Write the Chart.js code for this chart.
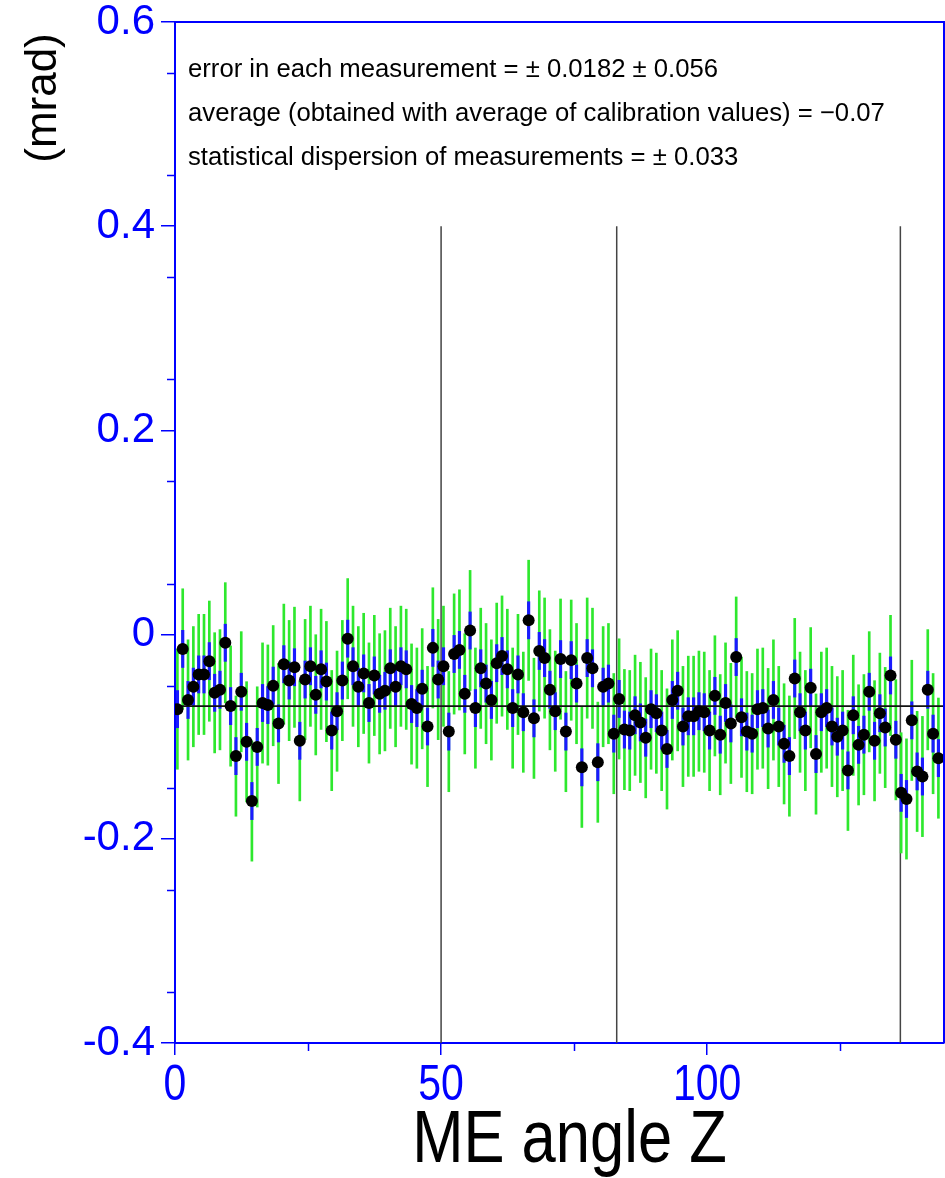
<!DOCTYPE html>
<html>
<head>
<meta charset="utf-8">
<script src="https://cdn.jsdelivr.net/npm/chart.js@4.4.1/dist/chart.umd.min.js"></script>
<style>
  html, body { margin: 0; padding: 0; background: #fff; overflow: hidden; }
  #wrap { width: 945px; height: 1178px; overflow: hidden; }
  canvas { display: block; }
</style>
</head>
<body>
<!-- canvas is a little wider than the view: the plot frame runs to the right edge -->
<div id="wrap"><canvas id="grafico" width="950" height="1178"></canvas></div>
<script>
const deviations = [
  -0.073,
  -0.014, -0.064, -0.051, -0.039, -0.039, -0.026, -0.057, -0.054, -0.008, -0.070,
  -0.119, -0.056, -0.105, -0.163, -0.110, -0.067, -0.069, -0.050, -0.087, -0.029,
  -0.045, -0.032, -0.104, -0.044,
  -0.031, -0.059, -0.034, -0.046, -0.094, -0.075, -0.045, -0.004, -0.031, -0.051,
  -0.038, -0.067, -0.040, -0.058, -0.055, -0.033, -0.051, -0.031, -0.034, -0.068,
  -0.072, -0.053, -0.090, -0.013,
  -0.044, -0.031, -0.095, -0.019, -0.015, -0.058, 0.004, -0.072, -0.033, -0.048,
  -0.064, -0.028, -0.021, -0.034, -0.072, -0.039, -0.076, 0.014, -0.082, -0.016,
  -0.023, -0.054, -0.075, -0.024, -0.095,
  -0.025, -0.048, -0.130, -0.023, -0.033, -0.125, -0.051, -0.048, -0.097, -0.063,
  -0.093, -0.094, -0.079, -0.086, -0.101, -0.073, -0.077, -0.094, -0.112, -0.064,
  -0.055, -0.090, -0.080, -0.080,
  -0.075, -0.076, -0.094, -0.060, -0.098, -0.067, -0.087, -0.022, -0.081, -0.095,
  -0.097, -0.073, -0.072, -0.092, -0.064, -0.090, -0.107, -0.119, -0.043, -0.076,
  -0.094, -0.052, -0.117, -0.076,
  -0.072, -0.090, -0.100, -0.094, -0.133, -0.079, -0.108, -0.098, -0.056, -0.104,
  -0.077, -0.091, -0.040, -0.103, -0.155, -0.161, -0.084, -0.134, -0.139, -0.054,
  -0.097, -0.121
];
// measurement angle Z for each point
const angles = deviations.map((_, i) => i + 0.45);

const statError = 0.0182;   // blue
const sysError = 0.056;
const totalError = Math.sqrt(statError * statError + sysError * sysError); // green

const meanValue = -0.07;
const dividerAngles = [50, 83, 136.3];
const dividerTop = 0.4;

const xRange = [0, 144.5];
const yRange = [-0.4, 0.6];
const xMajorStep = 50;
const xMinorTicks = [25, 75, 125];
const yMinorTicks = [-0.35, -0.25, -0.15, -0.05, 0.05, 0.15, 0.25, 0.35, 0.45, 0.55];

const notes = [
  'error in each measurement = \u00b1 0.0182 \u00b1 0.056',
  'average (obtained with average of calibration values) = \u22120.07',
  'statistical dispersion of measurements = \u00b1 0.033'
];

const AXIS_BLUE = '#0000ff';
const SANS = "'Liberation Sans', Arial, sans-serif";

// draws text squeezed horizontally (the original uses a narrow face)
function narrowText(ctx, text, x, y, squeeze) {
  ctx.save();
  ctx.translate(x, y);
  ctx.scale(squeeze, 1);
  ctx.fillText(text, 0, 0);
  ctx.restore();
}

const extras = {
  id: 'extras',
  afterDraw(chart) {
    const { ctx, chartArea, scales } = chart;
    ctx.save();
    // top and right frame
    ctx.strokeStyle = AXIS_BLUE;
    ctx.lineWidth = 2;
    ctx.beginPath();
    ctx.moveTo(chartArea.left, chartArea.top);
    ctx.lineTo(chartArea.right, chartArea.top);
    ctx.lineTo(chartArea.right, chartArea.bottom);
    ctx.stroke();

    // minor ticks
    ctx.lineWidth = 1.5;
    ctx.beginPath();
    xMinorTicks.forEach(v => {
      const px = Math.round(scales.x.getPixelForValue(v)) + 0.5;
      ctx.moveTo(px, chartArea.bottom);
      ctx.lineTo(px, chartArea.bottom + 8);
    });
    yMinorTicks.forEach(v => {
      const py = Math.round(scales.y.getPixelForValue(v)) + 0.5;
      ctx.moveTo(chartArea.left - 8, py);
      ctx.lineTo(chartArea.left, py);
    });
    ctx.stroke();

    // x tick labels
    ctx.fillStyle = AXIS_BLUE;
    ctx.font = '50px ' + SANS;
    ctx.textAlign = 'center';
    ctx.textBaseline = 'alphabetic';
    scales.x.ticks.forEach(t => {
      narrowText(ctx, String(t.value), scales.x.getPixelForValue(t.value), chartArea.bottom + 57, 0.82);
    });

    // x title
    ctx.fillStyle = '#000';
    ctx.font = '75px ' + SANS;
    narrowText(ctx, 'ME angle Z', (chartArea.left + chartArea.right) / 2 + 10, chartArea.bottom + 119, 0.82);

    // notes inside the plot
    ctx.font = '25.7px ' + SANS;
    ctx.textAlign = 'left';
    notes.forEach((t, i) => {
      ctx.fillText(t, chartArea.left + 13, chartArea.top + 55 + i * 44);
    });

    // y title
    ctx.translate(44, 98);
    ctx.rotate(-Math.PI / 2);
    ctx.textAlign = 'center';
    ctx.textBaseline = 'middle';
    ctx.font = '44px ' + SANS;
    ctx.fillText('(mrad)', 0, 0);
    ctx.restore();
  }
};

new Chart(document.getElementById('grafico'), {
  type: 'scatter',
  data: {
    datasets: [
      {
        type: 'scatter',
        data: angles.map((a, i) => ({ x: a, y: deviations[i] })),
        pointRadius: 6,
        pointHoverRadius: 6,
        pointBackgroundColor: '#000',
        pointBorderWidth: 0,
        order: 0
      },
      {
        type: 'line',
        data: [{ x: xRange[0], y: meanValue }, { x: xRange[1], y: meanValue }],
        borderColor: '#111',
        borderWidth: 1.8,
        pointRadius: 0,
        order: 1
      },
      {
        type: 'bar',
        data: angles.map((a, i) => ({ x: a, y: [deviations[i] - statError, deviations[i] + statError] })),
        backgroundColor: '#1a1aff',
        borderWidth: 0,
        barThickness: 2.5,
        grouped: false,
        order: 2
      },
      {
        type: 'bar',
        data: angles.map((a, i) => ({ x: a, y: [deviations[i] - totalError, deviations[i] + totalError] })),
        backgroundColor: '#2ee82e',
        borderWidth: 0,
        barThickness: 2,
        grouped: false,
        order: 3
      },
      ...dividerAngles.map(a => ({
        type: 'line',
        data: [{ x: a, y: dividerTop }, { x: a, y: yRange[0] }],
        borderColor: '#444',
        borderWidth: 1.5,
        pointRadius: 0,
        order: 4
      }))
    ]
  },
  options: {
    responsive: false,
    animation: false,
    layout: { padding: { top: 22, right: 1, left: 0, bottom: 0 } },
    plugins: {
      legend: { display: false },
      tooltip: { enabled: false }
    },
    scales: {
      x: {
        type: 'linear',
        position: 'bottom',
        min: xRange[0],
        max: xRange[1],
        offset: false,
        border: { color: AXIS_BLUE, width: 2 },
        grid: { drawOnChartArea: false, offset: false, color: AXIS_BLUE, tickLength: 12, lineWidth: 1.5 },
        ticks: { display: false, stepSize: xMajorStep },
        afterBuildTicks(s) { s.ticks = s.ticks.filter(t => t.value % xMajorStep === 0); },
        afterFit(s) { s.height = 135; s.paddingLeft = 0; s.paddingRight = 0; }
      },
      y: {
        type: 'linear',
        position: 'left',
        min: yRange[0],
        max: yRange[1],
        border: { color: AXIS_BLUE, width: 2 },
        grid: { drawOnChartArea: false, color: AXIS_BLUE, tickLength: 14, lineWidth: 1.5 },
        ticks: {
          stepSize: 0.2,
          color: AXIS_BLUE,
          padding: 6,
          font: { family: SANS, size: 42 },
          callback: v => Math.abs(v) < 1e-9 ? '0' : v.toFixed(1)
        },
        afterFit(s) { s.width = 175; s.paddingTop = 0; s.paddingBottom = 0; }
      }
    }
  },
  plugins: [extras]
});
</script>
</body>
</html>
